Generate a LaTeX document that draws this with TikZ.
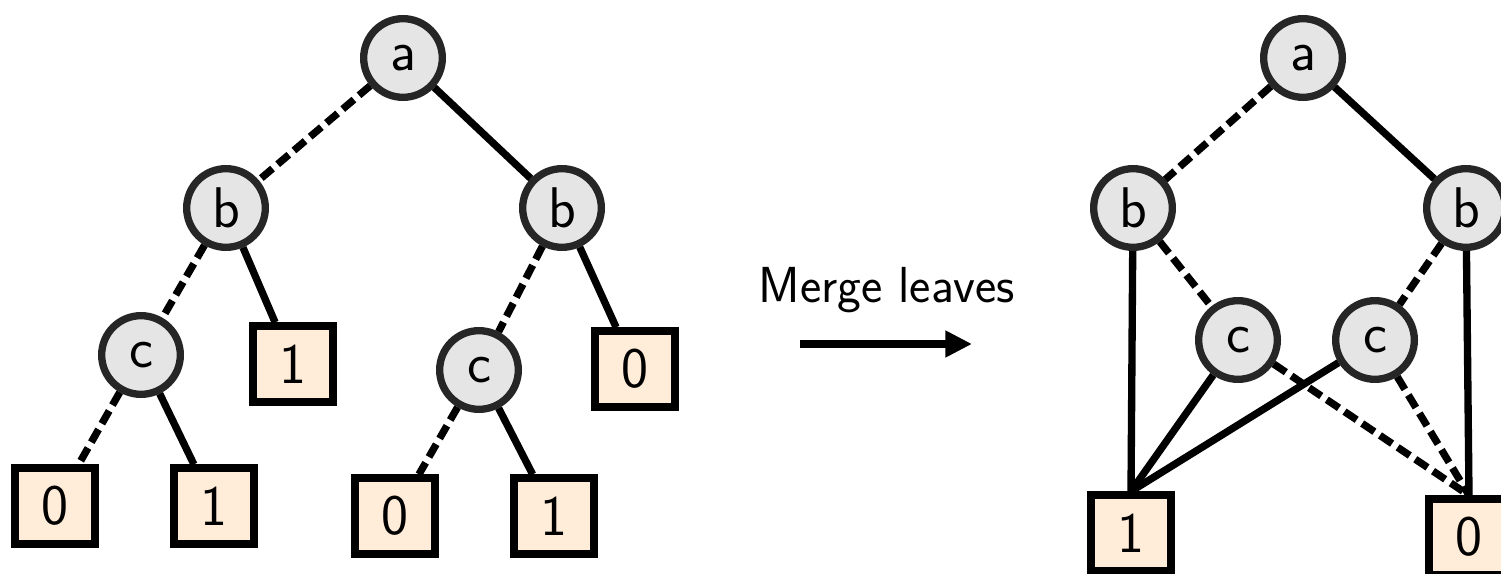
\documentclass[tikz,border=0pt]{standalone}
\usetikzlibrary{arrows.meta}
\begin{document}
\begin{tikzpicture}[x=0.75pt,y=-0.75pt,
  inner/.style={circle,draw=black!85,fill=black!10,line width=5.5pt,minimum size=59pt,inner sep=0pt,font=\sffamily\fontsize{43}{43}\selectfont},
  leaf/.style={rectangle,draw=black,fill=orange!15,line width=6pt,minimum width=60pt,minimum height=56.5pt,inner sep=0pt,font=\sffamily\fontsize{43}{43}\selectfont},
  hi/.style={line width=5.5pt},
  lo/.style={line width=5.5pt,dash pattern=on 11pt off 5pt}]
\useasboundingbox (0,0) rectangle (1501,574);
% left tree
\node[inner] (a) at (403,58) {a};
\node[inner] (b1) at (226,208) {b};
\node[inner] (b2) at (562,208) {b};
\node[inner] (c1) at (141,355) {c};
\node[inner] (c2) at (479,370) {c};
\node[leaf] (l1) at (293,364) {1};
\node[leaf] (l2) at (635,369) {0};
\node[leaf] (l3) at (55,506) {0};
\node[leaf] (l4) at (214,506) {1};
\node[leaf] (l5) at (395,516) {0};
\node[leaf] (l6) at (554,516) {1};
\draw[lo] (a) -- (b1);
\draw[hi] (a) -- (b2);
\draw[lo] (b1) -- (c1);
\draw[hi] (b1) -- (l1);
\draw[lo] (b2) -- (c2);
\draw[hi] (b2) -- (l2);
\draw[lo] (c1) -- (l3);
\draw[hi] (c1) -- (l4);
\draw[lo] (c2) -- (l5);
\draw[hi] (c2) -- (l6);
% arrow
\node[font=\sffamily\fontsize{38}{38}\selectfont] (lab) at (887,290) {Merge leaves};
\coordinate (s) at (800,344);
\coordinate (t) at (972,344);
\draw[line width=6.5pt,-{Triangle[length=20pt,width=19pt]}] (s) -- (t);
% right tree
\node[inner] (A) at (1303,58) {a};
\node[inner] (B1) at (1133,208) {b};
\node[inner] (B2) at (1466,208) {b};
\node[inner] (C1) at (1238,340) {c};
\node[inner] (C2) at (1375,340) {c};
\node[leaf] (L1) at (1131,533) {1};
\node[leaf] (L0) at (1469,537) {0};
\draw[lo] (A) -- (B1);
\draw[hi] (A) -- (B2);
\draw[hi] (B1) -- (L1.north);
\draw[lo] (B1) -- (C1);
\draw[lo] (B2) -- (C2);
\draw[hi] (B2) -- (L0.north);
\draw[hi] (C1) -- (L1.north);
\draw[lo] (C1) -- (L0.north);
\draw[hi] (C2) -- (L1.north);
\draw[lo] (C2) -- (L0.north);
\end{tikzpicture}
\end{document}
